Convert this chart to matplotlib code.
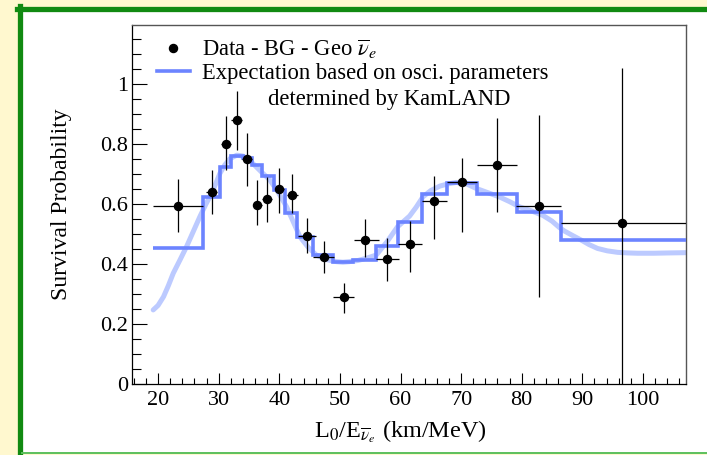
import matplotlib
matplotlib.use("Agg")
import matplotlib.pyplot as plt
from matplotlib.patches import Rectangle
from matplotlib.lines import Line2D
from matplotlib.ticker import MultipleLocator

# ---------------- data ----------------
data_x = [23.35, 28.85, 31.2, 32.96, 34.7, 36.3, 37.96, 39.98, 42.1, 44.5,
          47.3, 50.6, 54.1, 57.8, 61.6, 65.5, 70.1, 75.96, 82.77, 96.56]
data_y = [0.594, 0.639, 0.799, 0.880, 0.749, 0.596, 0.617, 0.650, 0.630, 0.493,
          0.422, 0.289, 0.480, 0.416, 0.467, 0.610, 0.672, 0.730, 0.594, 0.536]
data_y_hi = [0.683, 0.713, 0.892, 0.978, 0.836, 0.680, 0.691, 0.720, 0.700, 0.553,
             0.477, 0.336, 0.550, 0.488, 0.542, 0.692, 0.755, 0.886, 0.897, 1.054]
data_y_lo = [0.506, 0.567, 0.715, 0.780, 0.661, 0.530, 0.541, 0.570, 0.570, 0.437,
             0.369, 0.236, 0.423, 0.343, 0.374, 0.484, 0.506, 0.572, 0.291, 0.000]
data_x_lo = [19.2, 27.9, 30.4, 32.1, 33.9, 35.6, 37.2, 39.3, 41.2, 43.1,
             45.5, 48.8, 52.4, 55.9, 59.6, 63.55, 67.7, 72.6, 79.1, 86.4]
data_x_hi = [27.4, 29.8, 32.0, 33.9, 35.5, 37.1, 38.8, 40.75, 43.1, 46.1,
             49.0, 52.3, 56.4, 59.75, 63.6, 67.7, 72.6, 79.3, 86.4, 110.0]

step_edges = [19.2, 27.4, 30.2, 32.05, 34.0, 35.5, 37.2, 39.2, 40.9, 42.85, 45.6,
              48.9, 52.1, 56.0, 59.65, 63.6, 67.7, 72.6, 79.3, 86.4, 110.0]
step_vals = [0.454, 0.624, 0.724, 0.761, 0.755, 0.730, 0.695, 0.647, 0.571, 0.489,
             0.430, 0.406, 0.414, 0.461, 0.539, 0.632, 0.669, 0.633, 0.574, 0.480]

curve_x = [19.2, 20.0, 20.9, 21.7, 22.5, 23.6, 24.7, 25.8, 26.9, 27.9, 28.85, 29.6,
           30.2, 31.0, 31.9, 33.0, 34.0, 35.0, 36.0, 37.0, 38.45, 39.8, 41.2, 42.3,
           43.4, 44.8, 46.1, 47.7, 49.4, 50.5, 51.6, 53.0, 54.5, 56.0, 57.8, 59.5,
           61.5, 62.6, 63.7, 65.0, 66.5, 68.0, 69.2, 70.8, 72.5, 74.4, 76.3, 78.0,
           79.6, 81.5, 83.5, 85.0, 86.2, 87.05, 88.4, 89.8, 91.1, 92.5, 94.1, 95.8,
           97.5, 99.1, 101.8, 104.3, 107.5]
curve_y = [0.247, 0.262, 0.291, 0.328, 0.369, 0.413, 0.458, 0.508, 0.558, 0.600,
           0.636, 0.672, 0.702, 0.730, 0.752, 0.763, 0.760, 0.748, 0.728, 0.708,
           0.680, 0.640, 0.591, 0.541, 0.491, 0.455, 0.430, 0.415, 0.408, 0.406,
           0.408, 0.412, 0.420, 0.430, 0.475, 0.524, 0.560, 0.590, 0.624, 0.645,
           0.660, 0.668, 0.672, 0.668, 0.652, 0.638, 0.624, 0.608, 0.591, 0.578,
           0.562, 0.543, 0.522, 0.510, 0.495, 0.480, 0.465, 0.452, 0.444, 0.439,
           0.437, 0.436, 0.436, 0.437, 0.438]

x_ticks = [20, 30, 40, 50, 60, 70, 80, 90, 100]
y_ticks = [0, 0.2, 0.4, 0.6, 0.8, 1]
y_tick_labels = ["0", "0.2", "0.4", "0.6", "0.8", "1"]

legend_data = r"Data - BG - Geo $\overline{\nu}_{e}$"
legend_exp = "Expectation based on osci. parameters"
legend_exp2 = "determined by KamLAND"
xlabel = r"L$_0$/E$_{\overline{\nu}_e}$ (km/MeV)"
ylabel = "Survival Probability"

# ---------------- style ----------------
plt.rcParams["font.family"] = ["Liberation Serif", "DejaVu Serif"]
plt.rcParams["mathtext.fontset"] = "stix"

W, H = 707, 455
fig = plt.figure(figsize=(W / 100, H / 100), dpi=100)
fig.patch.set_facecolor("#fff8cf")

# panel frame
fig.add_artist(Rectangle((20 / W, 1 - 453 / H), 1.0, (453 - 9) / H,
                         transform=fig.transFigure, facecolor="white",
                         edgecolor="none", zorder=0))
fig.add_artist(Line2D([20 / W, 20 / W], [1 - 453.5 / H, 1 - 6 / H],
                      transform=fig.transFigure, color="#118a11", lw=3.8, zorder=1))
fig.add_artist(Line2D([17.3 / W, 1.0], [1 - 8.5 / H, 1 - 8.5 / H],
                      transform=fig.transFigure, color="#118a11", lw=3.8, zorder=1))
fig.add_artist(Line2D([22 / W, 1.0], [1 - 453 / H, 1 - 453 / H],
                      transform=fig.transFigure, color="#5cc05c", lw=1.4, zorder=1))

ax = fig.add_axes([132 / W, (H - 384) / H, (686 - 132) / W, (384 - 25) / H])
ax.set_facecolor("none")
ax.set_xlim(15.7, 107.1)
ax.set_ylim(0, 1.197)

curve_color = "#bccaff"
step_color = "#6c84ff"

ax.plot(curve_x, curve_y, color=curve_color, lw=3.6, solid_capstyle="round", zorder=2)
ax.stairs(step_vals, step_edges, color=step_color, lw=2.6, baseline=None, zorder=3)

xerr = [[x - lo for x, lo in zip(data_x, data_x_lo)],
        [hi - x for x, hi in zip(data_x, data_x_hi)]]
yerr = [[y - lo for y, lo in zip(data_y, data_y_lo)],
        [hi - y for y, hi in zip(data_y, data_y_hi)]]
ax.errorbar(data_x, data_y, xerr=xerr, yerr=yerr, fmt="o", color="black",
            ms=5.8, elinewidth=0.9, capsize=0, zorder=4)

# axes styling
for s in ["left", "bottom"]:
    ax.spines[s].set_color("black")
    ax.spines[s].set_linewidth(0.9)
for s in ["top", "right"]:
    ax.spines[s].set_color("#555555")
    ax.spines[s].set_linewidth(1.0)

ax.set_xticks(x_ticks)
ax.xaxis.set_minor_locator(MultipleLocator(2))
ax.set_yticks(y_ticks)
ax.set_yticklabels(y_tick_labels)
ax.yaxis.set_minor_locator(MultipleLocator(0.05))
ax.tick_params(axis="x", which="major", direction="in", length=8, width=0.8,
               labelsize=16, pad=5)
ax.tick_params(axis="x", which="minor", direction="in", length=4, width=0.8)
ax.tick_params(axis="y", which="major", direction="in", length=11, width=0.8,
               labelsize=16, pad=3)
ax.tick_params(axis="y", which="minor", direction="in", length=6.5, width=0.8)

ax.set_xlabel(xlabel, fontsize=17.5, labelpad=5)
ax.xaxis.set_label_coords(0.485, -0.095)
ax.set_ylabel(ylabel, fontsize=17, labelpad=20)

handles = [Line2D([], [], marker="o", color="black", ls="none", ms=5.8),
           Line2D([], [], color=step_color, lw=2.6)]
leg = ax.legend(handles, [legend_data, legend_exp], loc="upper left",
                bbox_to_anchor=(0.045, 0.966), frameon=False, fontsize=16.3,
                handlelength=1.45, handletextpad=0.55, labelspacing=0.1,
                borderaxespad=0.0, borderpad=0.0)
ax.text(0.245, 0.792, legend_exp2, transform=ax.transAxes, fontsize=16.3,
        va="center", ha="left")

fig.savefig("out.png", dpi=100, facecolor=fig.get_facecolor())
